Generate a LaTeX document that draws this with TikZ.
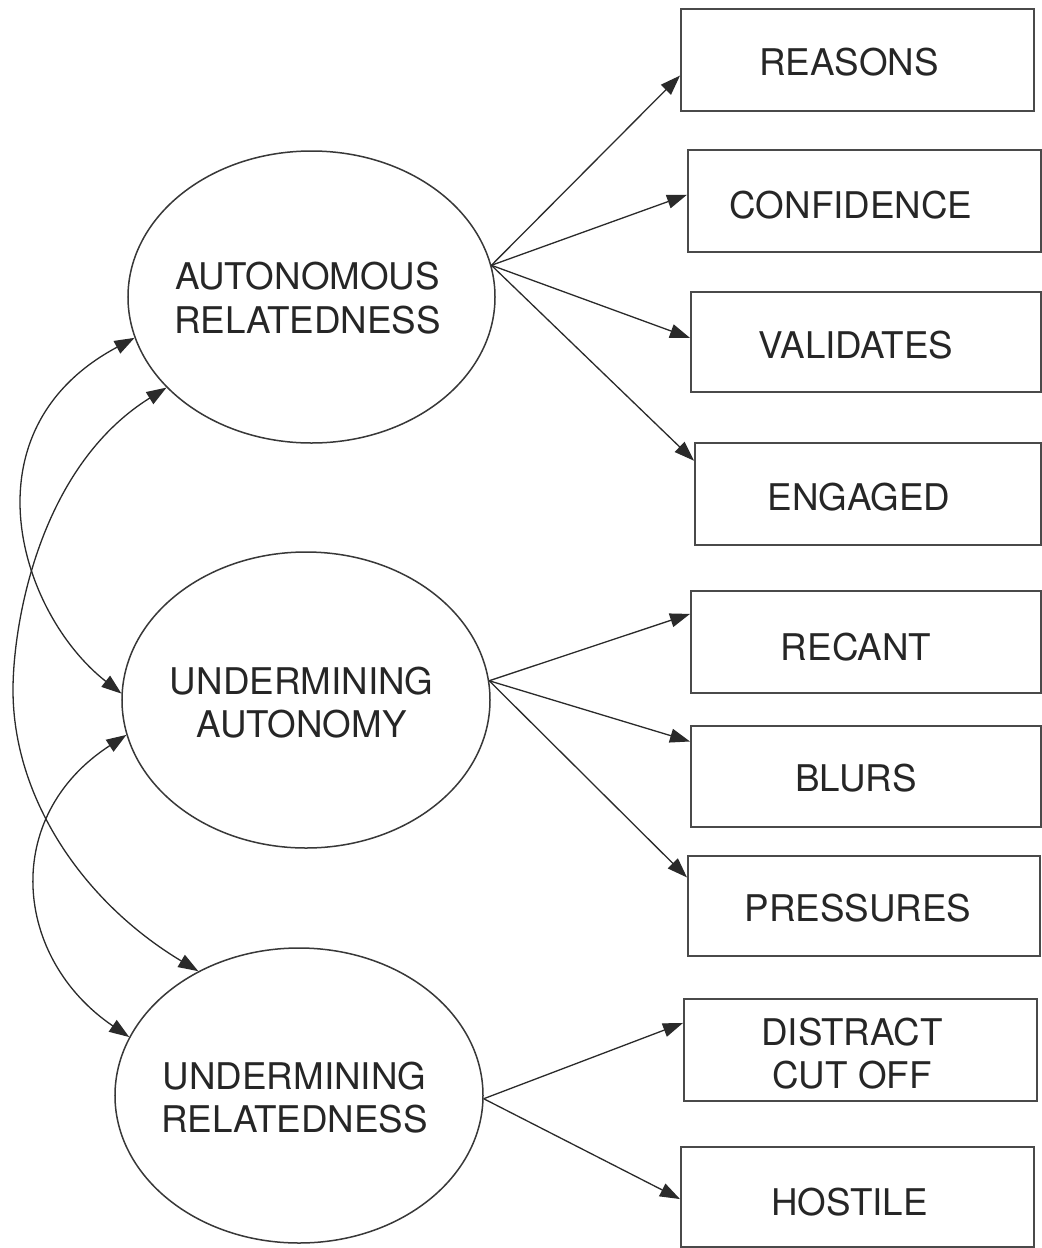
\documentclass[tikz,border=0pt]{standalone}
\usepackage{fontspec}
\setmainfont{TeX Gyre Heros}
\usetikzlibrary{arrows.meta,shapes.geometric,calc}
\definecolor{linegray}{HTML}{383838}
\definecolor{boxgray}{HTML}{4A4A4A}
\definecolor{arrgray}{HTML}{2A2A2A}
\definecolor{txtgray}{HTML}{262626}
\begin{document}
\begin{tikzpicture}[x=1bp,y=-1bp,
  latent/.style={ellipse,draw=linegray,line width=1.5bp,inner sep=0pt},
  indbox/.style={rectangle,draw=boxgray,line width=2bp,inner sep=0pt},
  lbl/.style={text=txtgray,font=\fontsize{36.9pt}{43.6pt}\selectfont,align=center,inner sep=0pt},
  arr/.style={draw=arrgray,line width=1.3bp,-{Triangle[length=20bp,width=14bp]}},
  cov/.style={draw=arrgray,line width=1.3bp,{Triangle[length=20bp,width=14bp]}-{Triangle[length=20bp,width=14bp]}}
]
\fill[white] (0,0) rectangle (1042,1248);
\useasboundingbox (0,0) rectangle (1042,1248);

% latent variables
\node[latent,minimum width=367bp,minimum height=292bp] (ar) at (311.5,297) {};
\node[lbl] (ar-t) at (307.5,298) {AUTONOMOUS\\RELATEDNESS};
\node[latent,minimum width=368bp,minimum height=296bp] (ua) at (306,700) {};
\node[lbl] (ua-t) at (301.7,702.75) {UNDERMINING\\AUTONOMY};
\node[latent,minimum width=368bp,minimum height=295bp] (ur) at (299,1095.5) {};
\node[lbl] (ur-t) at (294.5,1097.75) {UNDERMINING\\RELATEDNESS};

% indicators
\node[indbox,minimum width=353bp,minimum height=102bp] (reasons) at (857.5,60) {};
\node[lbl] (reasons-t) at (849,62.5) {REASONS};
\node[indbox,minimum width=353bp,minimum height=102bp] (confidence) at (864.5,201) {};
\node[lbl] (confidence-t) at (851,205) {CONFIDENCE};
\node[indbox,minimum width=350bp,minimum height=100bp] (validates) at (866,342) {};
\node[lbl] (validates-t) at (856,345.5) {VALIDATES};
\node[indbox,minimum width=346bp,minimum height=102bp] (engaged) at (868,494) {};
\node[lbl] (engaged-t) at (859,497) {ENGAGED};
\node[indbox,minimum width=350bp,minimum height=102bp] (recant) at (866,642) {};
\node[lbl] (recant-t) at (856,647) {RECANT};
\node[indbox,minimum width=350bp,minimum height=101bp] (blurs) at (866,776.5) {};
\node[lbl] (blurs-t) at (856,778.5) {BLURS};
\node[indbox,minimum width=352bp,minimum height=100bp] (pressures) at (864,906) {};
\node[lbl] (pressures-t) at (858,908.5) {PRESSURES};
\node[indbox,minimum width=353bp,minimum height=102bp] (distract) at (860.5,1050) {};
\node[lbl] (distract-t) at (852,1053.5) {DISTRACT\\CUT OFF};
\node[indbox,minimum width=353bp,minimum height=100bp] (hostile) at (857.5,1197) {};
\node[lbl] (hostile-t) at (849.5,1202.5) {HOSTILE};

% loadings
\draw[arr] (ar.10.9) -- ($(reasons.north west)!0.65!(reasons.south west)$);
\draw[arr] (ar.10.9) -- ($(confidence.north west)!0.44!(confidence.south west)$);
\draw[arr] (ar.10.9) -- ($(validates.north west)!0.46!(validates.south west)$);
\draw[arr] (ar.10.9) -- ($(engaged.north west)!0.18!(engaged.south west)$);
\draw[arr] (ua.6.9) -- ($(recant.north west)!0.23!(recant.south west)$);
\draw[arr] (ua.6.9) -- ($(blurs.north west)!0.16!(blurs.south west)$);
\draw[arr] (ua.6.9) -- ($(pressures.north west)!0.22!(pressures.south west)$);
\draw[arr] (ur.-1) -- ($(distract.north west)!0.24!(distract.south west)$);
\draw[arr] (ur.-1) -- ($(hostile.north west)!0.52!(hostile.south west)$);

% covariances
\draw[cov] (ar.193.8) .. controls (-38,430) and (19.1,613.5) .. (ua.178.5);
\draw[cov] (ar.212.7) .. controls (38,467.8) and (13,626) .. (13,690)
           .. controls (13,797.5) and (82.3,901.5) .. (ur.129.8);
\draw[cov] (ua.191.1) .. controls (0.7,816.2) and (13,958.1) .. (ur.161.4);
\end{tikzpicture}
\end{document}
